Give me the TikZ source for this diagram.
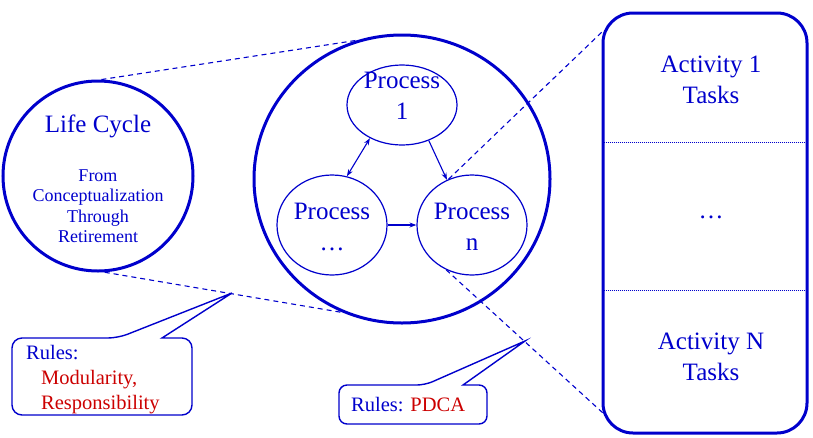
\documentclass[tikz,border=0pt]{standalone}
\usepackage{fontspec}
\setmainfont{Liberation Serif}
\usetikzlibrary{arrows,arrows.meta,shapes.geometric,calc}
\definecolor{lcblue}{RGB}{0,0,204}
\definecolor{rulered}{RGB}{204,0,0}

\begin{document}
\begin{tikzpicture}[x=1pt,y=-1pt,>={Stealth[length=7pt,width=5pt]},color=lcblue,
                    inner sep=0pt]
  \tikzstyle{frame}=[draw=lcblue,line width=3pt]
  \tikzstyle{proc}=[ellipse,draw=lcblue,line width=1.2pt,minimum width=110pt,minimum height=100pt]
  \tikzstyle{ptxt}=[align=center,font=\fontsize{25}{31}\selectfont]
  \tikzstyle{stxt}=[align=center,font=\fontsize{18}{20.5}\selectfont]
  \tikzstyle{rtxt}=[align=left,anchor=west,font=\fontsize{20.5}{25}\selectfont]
  \tikzstyle{link}=[line width=1.1pt,dash pattern=on 5pt off 4pt]
  \tikzstyle{sep}=[line width=0.8pt,dash pattern=on 1pt off 1pt]
  \tikzstyle{bubble}=[line width=1.4pt,fill=white]
  \tikzstyle{flow}=[line width=1.1pt]

  \useasboundingbox (0,0) rectangle (813,437);

  % life cycle
  \node[frame,circle,minimum size=190pt] (lc) at (98,176) {};
  \node[ptxt] (lct) at (98,126) {Life Cycle};
  \node[stxt] (lcs) at (98,206) {From\\Conceptualization\\Through\\Retirement};

  % processes
  \node[frame,ellipse,minimum width=296pt,minimum height=288pt] (pc) at (402,179) {};
  \node[proc,minimum height=80pt] (p1) at (402,105) {};
  \node[proc] (pd) at (332,225) {};
  \node[proc] (pn) at (472,225) {};
  \node[ptxt] (p1t) at (402,96) {Process\\1};
  \node[ptxt] (pdt) at (332,227) {Process\\\dots};
  \node[ptxt] (pnt) at (472,227) {Process\\n};

  \draw[flow,<->] (p1.226) -- (pd.73);
  \draw[flow,->] (p1.307) -- (pn.119);
  \draw[flow,->] (pd.east) -- (pn.west);

  % activities
  \node[frame,rectangle,rounded corners=30pt,minimum width=204pt,minimum height=420pt] (act) at (705,223) {};
  \draw[sep] ($(act.north west)+(2,131)$) -- ($(act.north east)+(-2,131)$);
  \draw[sep] ($(act.north west)+(2,279)$) -- ($(act.north east)+(-2,279)$);
  \node[ptxt] (a1) at (711,80) {Activity 1\\Tasks};
  \node[ptxt] (ad) at (711,217) {\dots};
  \node[ptxt] (an) at (711,357) {Activity N\\Tasks};

  % zoom lines
  \draw[link] (lc.88) -- (pc.108);
  \draw[link] (lc.274) -- (pc.246);
  \draw[link] (pn.117) -- ($(act.north west)+(2,19)$);
  \draw[link] (pn.240) -- ($(act.south west)+(2,-21)$);

  % rules
  \coordinate (t1) at (232,293);
  \coordinate (t2) at (525,341);
  \draw[bubble] (162,338) [rounded corners=10pt] -- (192,338) -- (192,415) -- (12,415) -- (12,338) -- (118,338) [sharp corners] -- (t1) -- cycle;
  \node[rtxt] (r1) at (26,380) {Rules:\\\hspace*{15pt}\textcolor{rulered}{Modularity,}\\\hspace*{15pt}\textcolor{rulered}{Responsibility}};
  \draw[bubble] (463,385) [rounded corners=8pt] -- (487,385) -- (487,424) -- (339,424) -- (339,385) -- (425,385) [sharp corners] -- (t2) -- cycle;
  \node[rtxt] (r2) at (351,405) {Rules: \textcolor{rulered}{PDCA}};
\end{tikzpicture}
\end{document}
